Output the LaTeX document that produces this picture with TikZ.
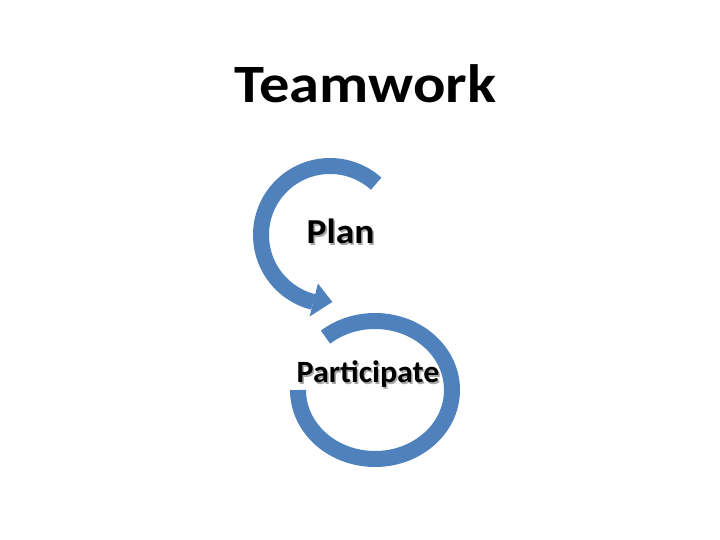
\documentclass[tikz,border=0pt]{standalone}
\usepackage{fontspec}
\setmainfont{Carlito}
\usepackage{graphicx}
\usepackage{tikz}
\usetikzlibrary{calc}
\definecolor{arcblue}{RGB}{79,129,189}
\tikzstyle{looparc} = [draw=arcblue, line width=16pt]
\tikzstyle{titletext} = [anchor=base, inner sep=0pt, font=\fontsize{54}{60}\selectfont\bfseries]
\tikzstyle{steptext} = [anchor=base, inner sep=0pt, font=\fontsize{35}{40}\selectfont\bfseries]
\newcommand{\shadowed}[1]{\makebox[0pt][l]{\hspace{1.5pt}\raisebox{-1.5pt}{\color{black!35}#1}}#1}

\begin{document}
\begin{tikzpicture}[x=1pt, y=1pt]
    \useasboundingbox (0,0) rectangle (720,540);
    \coordinate (plancenter) at (330,305);
    \coordinate (partcenter) at (375,150);

    \node (title) [titletext] at (365.5,437) {\scalebox{1.12}[1]{Teamwork}};
    \node (plan) [steptext] at (340.5,296) {\scalebox{1.07}[1]{\shadowed{Plan}}};
    \node (participate) [steptext, font=\fontsize{31}{36}\selectfont\bfseries] at (368,157) {\scalebox{1.03}[1]{\shadowed{Participate}}};

    \draw [looparc] ($(plancenter)+(48:69)$) arc[start angle=48, end angle=256, radius=69];
    \fill [arcblue] ($(plancenter)+(256:50)$) -- ($(plancenter)+(256:84)$) -- ($(plancenter)+(272:67)$) -- cycle;
    \draw [looparc] ($(partcenter)+(130:77 and 69)$) arc[start angle=130, end angle=-180, x radius=77, y radius=69];
  \end{tikzpicture}
\end{document}
